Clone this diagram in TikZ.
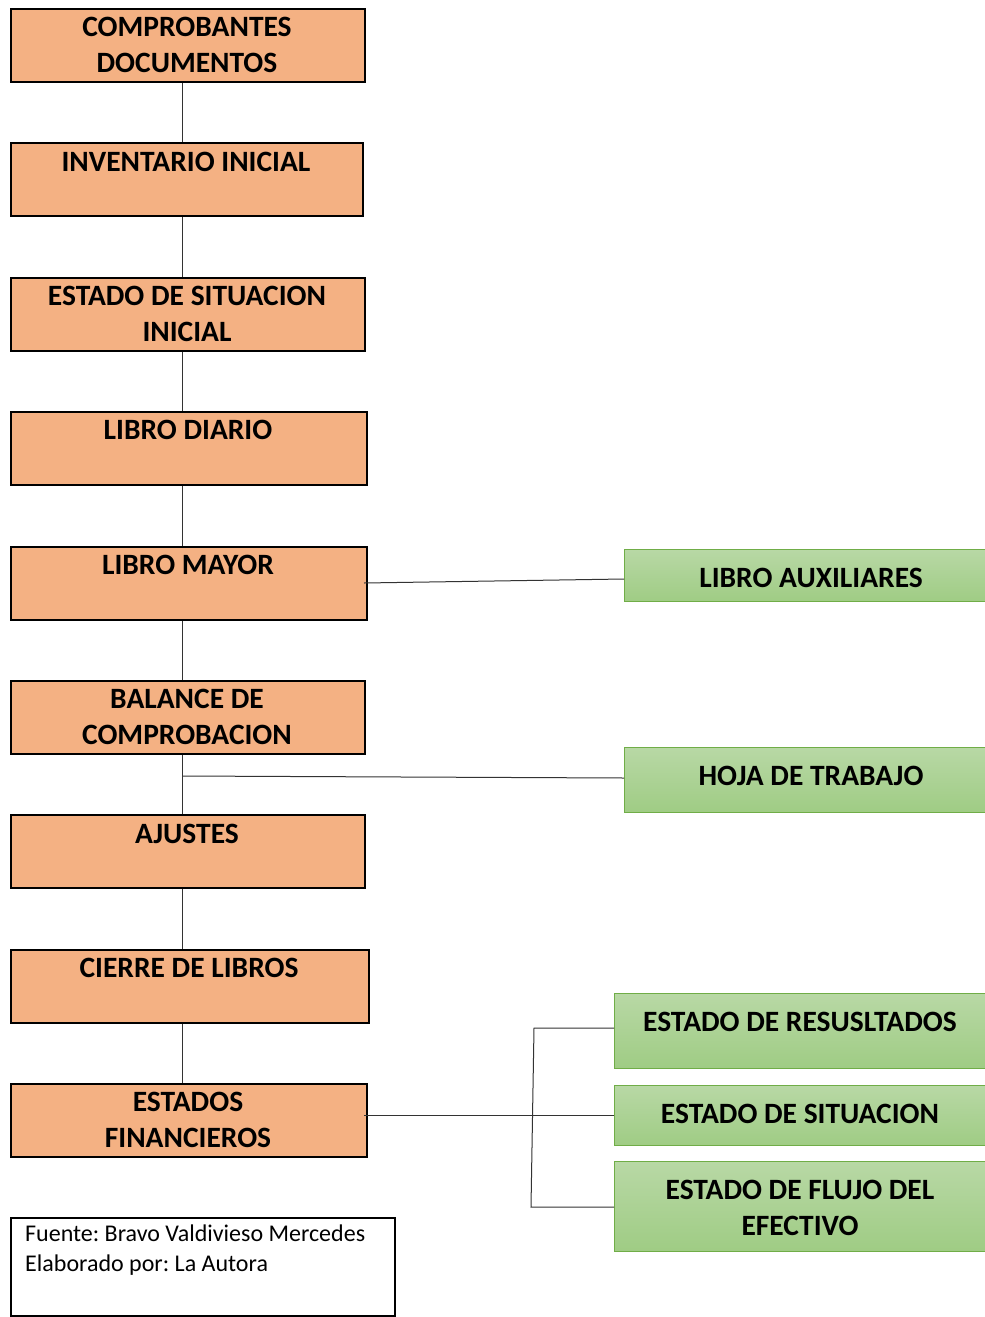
\documentclass[tikz,border=0pt]{standalone}
\usepackage{fontspec}
\setmainfont{Carlito}
\frenchspacing
\definecolor{orangefill}{HTML}{F4B183}
\definecolor{greentop}{HTML}{B8D8A5}
\definecolor{greenbot}{HTML}{9FCC84}
\definecolor{greenline}{HTML}{70AD47}
\definecolor{linecol}{HTML}{333333}
\tikzset{
  obox/.style={draw=black, line width=2pt, fill=orangefill, rectangle, inner sep=0pt, anchor=north west},
  gbox/.style={draw=greenline, line width=1.3pt, top color=greentop, bottom color=greenbot, rectangle, inner sep=0pt, anchor=north west},
  lbl/.style={font=\fontsize{29.5}{36}\selectfont\bfseries, align=center, inner sep=0pt, anchor=base},
  src/.style={font=\fontsize{24}{30}\selectfont, align=left, inner sep=0pt, anchor=base west},
  conn/.style={draw=linecol, line width=1pt},
}
\begin{document}
\begin{tikzpicture}[x=1pt,y=-1pt]
\useasboundingbox (0,0) rectangle (985,1317);
% orange boxes
\node[obox, minimum width=354pt, minimum height=73pt] (b1) at (10,8) {};
\node[obox, minimum width=352pt, minimum height=73pt] (b2) at (10,142) {};
\node[obox, minimum width=354pt, minimum height=73pt] (b3) at (10,277) {};
\node[obox, minimum width=356pt, minimum height=73pt] (b4) at (10,411) {};
\node[obox, minimum width=356pt, minimum height=73pt] (b5) at (10,546) {};
\node[obox, minimum width=354pt, minimum height=73pt] (b6) at (10,680) {};
\node[obox, minimum width=354pt, minimum height=73pt] (b7) at (10,814) {};
\node[obox, minimum width=358pt, minimum height=73pt] (b8) at (10,949) {};
\node[obox, minimum width=356pt, minimum height=73pt] (b9) at (10,1083) {};
% green boxes
\node[gbox, minimum width=361pt, minimum height=52pt] (g1) at (624,549) {};
\node[gbox, minimum width=361pt, minimum height=65pt] (g2) at (624,747) {};
\node[gbox, minimum width=371pt, minimum height=75pt] (g3) at (614,993) {};
\node[gbox, minimum width=371pt, minimum height=60pt] (g4) at (614,1085) {};
\node[gbox, minimum width=371pt, minimum height=90pt] (g5) at (614,1161) {};
% source box
\node[draw=black, line width=1.5pt, rectangle, inner sep=0pt, anchor=north west, minimum width=384pt, minimum height=98pt] (s) at (10,1217) {};
\draw[line width=3pt] (s.south west) -- (s.south east);
% texts
\node[lbl] (t1) at (187,72) {COMPROBANTES\\DOCUMENTOS};
\node[lbl] (t2) at (186,171) {INVENTARIO INICIAL};
\node[lbl] (t3) at (187,341) {ESTADO DE SITUACION\\INICIAL};
\node[lbl] (t4) at (188,439) {LIBRO DIARIO};
\node[lbl] (t5) at (188,574) {LIBRO MAYOR};
\node[lbl] (t6) at (187,744) {BALANCE DE\\COMPROBACION};
\node[lbl] (t7) at (187,843) {AJUSTES};
\node[lbl] (t8) at (189,977) {CIERRE DE LIBROS};
\node[lbl] (t9) at (188,1147) {ESTADOS\\FINANCIEROS};
\node[lbl] (u1) at (811,587) {LIBRO AUXILIARES};
\node[lbl] (u2) at (811,785) {HOJA DE TRABAJO};
\node[lbl] (u3) at (800,1031) {ESTADO DE RESUSLTADOS};
\node[lbl] (u4) at (800,1123) {ESTADO DE SITUACION};
\node[lbl] (u5) at (800,1235) {ESTADO DE FLUJO DEL\\EFECTIVO};
\node[src] (st) at (25,1271) {Fuente: Bravo Valdivieso Mercedes\\Elaborado por: La Autora};
% connectors
\draw[conn] (b1.south -| 182,0) -- (b2.north -| 182,0);
\draw[conn] (b2.south -| 182,0) -- (b3.north -| 182,0);
\draw[conn] (b3.south -| 182,0) -- (b4.north -| 182,0);
\draw[conn] (b4.south -| 182,0) -- (b5.north -| 182,0);
\draw[conn] (b5.south -| 182,0) -- (b6.north -| 182,0);
\draw[conn] (b6.south -| 182,0) -- (b7.north -| 182,0);
\draw[conn] (b7.south -| 182,0) -- (b8.north -| 182,0);
\draw[conn] (b8.south -| 182,0) -- (b9.north -| 182,0);
\coordinate (m5) at (364,583);
\draw[conn] (m5) -- (g1.west |- 0,579);
\coordinate (h6) at (182,776);
\draw[conn] (h6) -- (g2.west |- 0,778);
\coordinate (e9) at (364,1115);
\draw[conn] (e9) -- (g4.west |- 0,1115);
\coordinate (bt) at (534,1028);
\coordinate (bb) at (531,1207);
\draw[conn] (g3.west |- bt) -- (bt) -- (bb) -- (g5.west |- bb);
\end{tikzpicture}
\end{document}
